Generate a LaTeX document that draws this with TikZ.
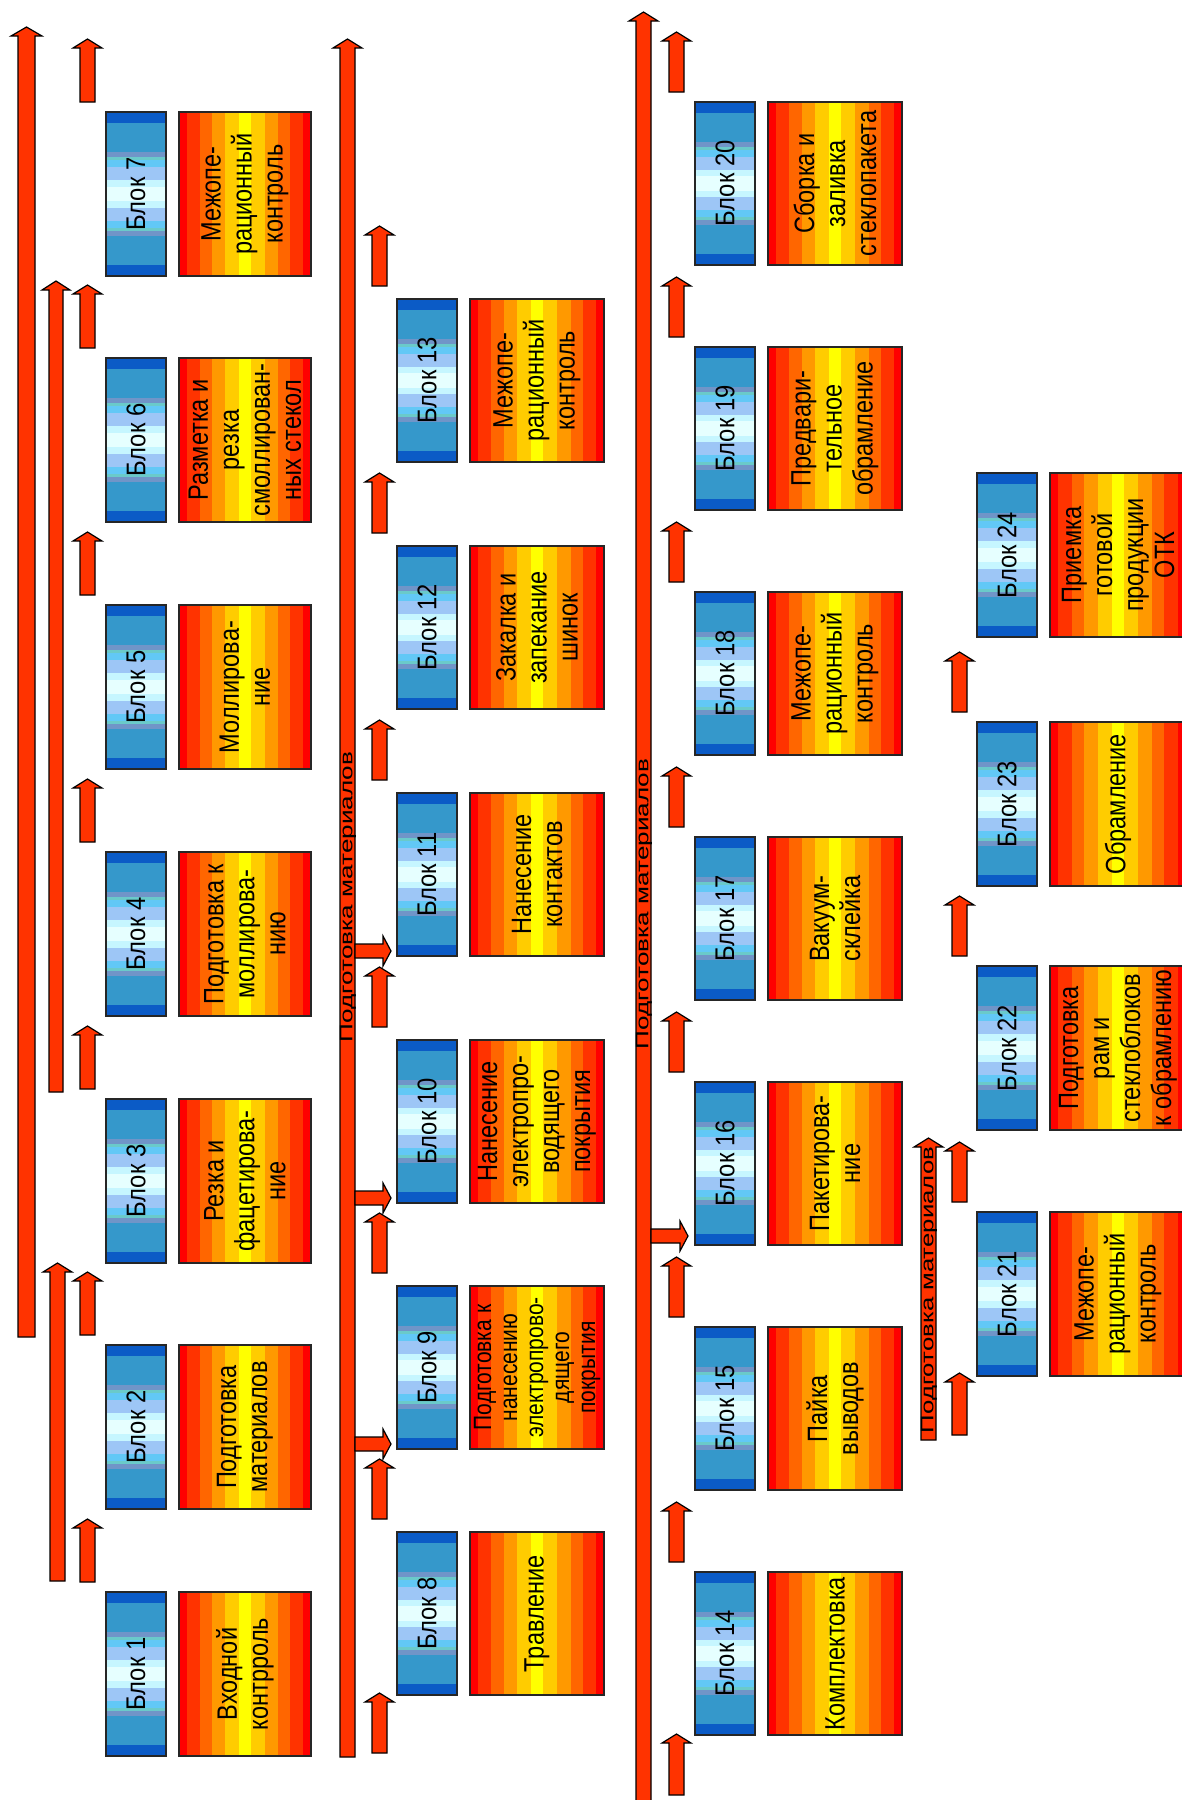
\documentclass[tikz,border=0pt]{standalone}
\usepackage{fontspec}
\usepackage{graphicx}
\newfontfamily\narrowsans[FakeStretch=0.88]{Liberation Sans}
\newfontfamily\narrowersans[FakeStretch=0.84]{Liberation Sans}
\newfontfamily\plainsans{Liberation Sans}
\definecolor{arrred}{HTML}{FF3300}
\definecolor{or1}{HTML}{FF0000}
\definecolor{or2}{HTML}{FF3300}
\definecolor{or3}{HTML}{FF6600}
\definecolor{or4}{HTML}{FF9900}
\definecolor{or5}{HTML}{FFCC00}
\definecolor{or6}{HTML}{FFFF00}
\definecolor{bl1}{HTML}{0B5BC6}
\definecolor{bl2}{HTML}{3598CB}
\definecolor{bl3}{HTML}{7095C8}
\definecolor{bl4}{HTML}{6ACACA}
\definecolor{bl5}{HTML}{62C8F6}
\definecolor{bl6}{HTML}{9DC6F6}
\definecolor{bl7}{HTML}{C6F6FF}
\definecolor{bl8}{HTML}{E6FFFF}
\tikzset{
  arr/.style={fill=arrred,draw=black,line width=0.6pt,line join=miter},
  bord/.style={draw=black!85,line width=0.6pt},
  btext/.style={rotate=90,inner sep=0pt,font=\narrowsans\fontsize{13.5}{15}\selectfont},
  otext/.style={rotate=90,align=center,inner sep=0pt,font=\narrowersans\fontsize{14}{15.5}\selectfont},
  osmall/.style={rotate=90,align=center,inner sep=0pt,font=\narrowersans\fontsize{12.5}{13}\selectfont},
  lablong/.style={rotate=90,inner sep=0pt,font=\plainsans\fontsize{9}{9.5}\selectfont}
}
% up block arrow: x-left, x-right, tip y, bottom y
\newcommand\UpArr[4]{\draw[arr] (#1,#4) -- (#2,#4) -- (#2,#3+9) -- (#2+7,#3+9) -- ({(#1+#2)/2},#3) -- (#1-7,#3+9) -- (#1,#3+9) -- cycle;}
% right block arrow: x start, x tip, centre y
\newcommand\RArr[3]{\draw[arr] (#1,#3-7) -- (#2-8,#3-7) -- (#2-8,#3-15) -- (#2,#3) -- (#2-8,#3+15) -- (#2-8,#3+7) -- (#1,#3+7) -- cycle;}
% block: number, blue x1, blue x2, orange x1, orange x2, top, bottom, text, text style
\newcommand\Blk[9]{%
  \foreach \f/\c in {0/bl1,0.067/bl2,0.243/bl3,0.274/bl4,0.294/bl5,0.335/bl6,0.416/bl7,0.456/bl8}{
    \fill[\c] (#2,{#6+\f*(#7-#6)}) rectangle (#3,{#7-\f*(#7-#6)});
  }
  \draw[bord] (#2,#6) rectangle (#3,#7);
  \foreach \f/\c in {0/or1,0.06/or2,0.16/or3,0.25/or4,0.35/or5,0.455/or6}{
    \fill[\c] ({#4+\f*(#5-#4)},#6) rectangle ({#5-\f*(#5-#4)},#7);
  }
  \draw[bord] (#4,#6) rectangle (#5,#7);
  \node[btext] (b#1) at ({(#2+#3)/2},{(#6+#7)/2}) {Блок #1};
  \node[#9] (o#1) at ({(#4+#5)/2},{(#6+#7)/2}) {#8};
}
\begin{document}
\begin{tikzpicture}[x=0.5pt,y=-0.5pt]
\path[use as bounding box] (0,0) rectangle (1182,1800);
\clip (0,0) rectangle (1182,1800);
\fill[white] (0,0) rectangle (1182,1800);

% long arrows
\UpArr{18}{35}{27}{1337}
\UpArr{49}{63}{281}{1092}
\UpArr{50}{65}{1263}{1581}
\UpArr{340}{355}{39}{1757}
\UpArr{636}{651}{12}{1806}
\UpArr{921}{936}{1138}{1440}

% right arrows
\RArr{355}{391}{951}
\RArr{355}{391}{1198}
\RArr{355}{391}{1444}
\RArr{651}{688}{1236}

% small arrows, column 1
\foreach \t in {112,358,605,852,1099,1345,1592}{\UpArr{80}{95}{\t-73}{\t-10}}
% column 2
\foreach \t in {299,546,793,1040,1286,1532}{\UpArr{372}{387}{\t-73}{\t-13}}
\UpArr{372}{387}{1693}{1753}
% column 3
\foreach \t in {102,347,592,837,1082,1327,1572}{\UpArr{669}{684}{\t-70}{\t-10}}
\UpArr{669}{684}{1734}{1795}
% column 4
\foreach \t in {722,966,1212}{\UpArr{952}{967}{\t-70}{\t-10}}
\UpArr{952}{967}{1373}{1435}

% column 1 blocks
\Blk{1}{106}{166}{179}{311}{1592}{1756}{Входной\\контрроль}{otext}
\Blk{2}{106}{166}{179}{311}{1345}{1509}{Подготовка\\материалов}{otext}
\Blk{3}{106}{166}{179}{311}{1099}{1263}{Резка и\\фацетирова-\\ние}{otext}
\Blk{4}{106}{166}{179}{311}{852}{1016}{Подготовка к\\моллирова-\\нию}{otext}
\Blk{5}{106}{166}{179}{311}{605}{769}{Моллирова-\\ние}{otext}
\Blk{6}{106}{166}{179}{311}{358}{522}{Разметка и\\резка\\смоллирован-\\ных стекол}{otext}
\Blk{7}{106}{166}{179}{311}{112}{276}{Межопе-\\рационный\\контроль}{otext}

% column 2 blocks
\Blk{8}{397}{457}{470}{604}{1532}{1695}{Травление}{otext}
\Blk{9}{397}{457}{470}{604}{1286}{1449}{Подготовка к\\нанесению\\электропрово-\\дящего\\покрытия}{osmall}
\Blk{10}{397}{457}{470}{604}{1040}{1203}{Нанесение\\электропро-\\водящего\\покрытия}{otext}
\Blk{11}{397}{457}{470}{604}{793}{956}{Нанесение\\контактов}{otext}
\Blk{12}{397}{457}{470}{604}{546}{709}{Закалка и\\запекание\\шинок}{otext}
\Blk{13}{397}{457}{470}{604}{299}{462}{Межопе-\\рационный\\контроль}{otext}

% column 3 blocks
\Blk{14}{695}{755}{768}{902}{1572}{1735}{Комплектовка}{otext}
\Blk{15}{695}{755}{768}{902}{1327}{1490}{Пайка\\выводов}{otext}
\Blk{16}{695}{755}{768}{902}{1082}{1245}{Пакетирова-\\ние}{otext}
\Blk{17}{695}{755}{768}{902}{837}{1000}{Вакуум-\\склейка}{otext}
\Blk{18}{695}{755}{768}{902}{592}{755}{Межопе-\\рационный\\контроль}{otext}
\Blk{19}{695}{755}{768}{902}{347}{510}{Предвари-\\тельное\\обрамление}{otext}
\Blk{20}{695}{755}{768}{902}{102}{265}{Сборка и\\заливка\\стеклопакета}{otext}

% column 4 blocks
\Blk{21}{977}{1037}{1050}{1186}{1212}{1376}{Межопе-\\рационный\\контроль}{otext}
\Blk{22}{977}{1037}{1050}{1186}{966}{1130}{Подготовка\\рам и\\стеклоблоков\\к обрамлению}{otext}
\Blk{23}{977}{1037}{1050}{1186}{722}{886}{Обрамление}{otext}
\Blk{24}{977}{1037}{1050}{1186}{473}{637}{Приемка\\готовой\\продукции\\ОТК}{otext}

% labels on long arrows
\node[lablong] (lab2) at (348,897) {\scalebox{1.45}[1]{Подготовка материалов}};
\node[lablong] (lab3) at (644,904) {\scalebox{1.45}[1]{Подготовка материалов}};
\node[lablong] (lab4) at (929,1290) {\scalebox{1.43}[1]{Подготовка материалов}};
\end{tikzpicture}
\end{document}
